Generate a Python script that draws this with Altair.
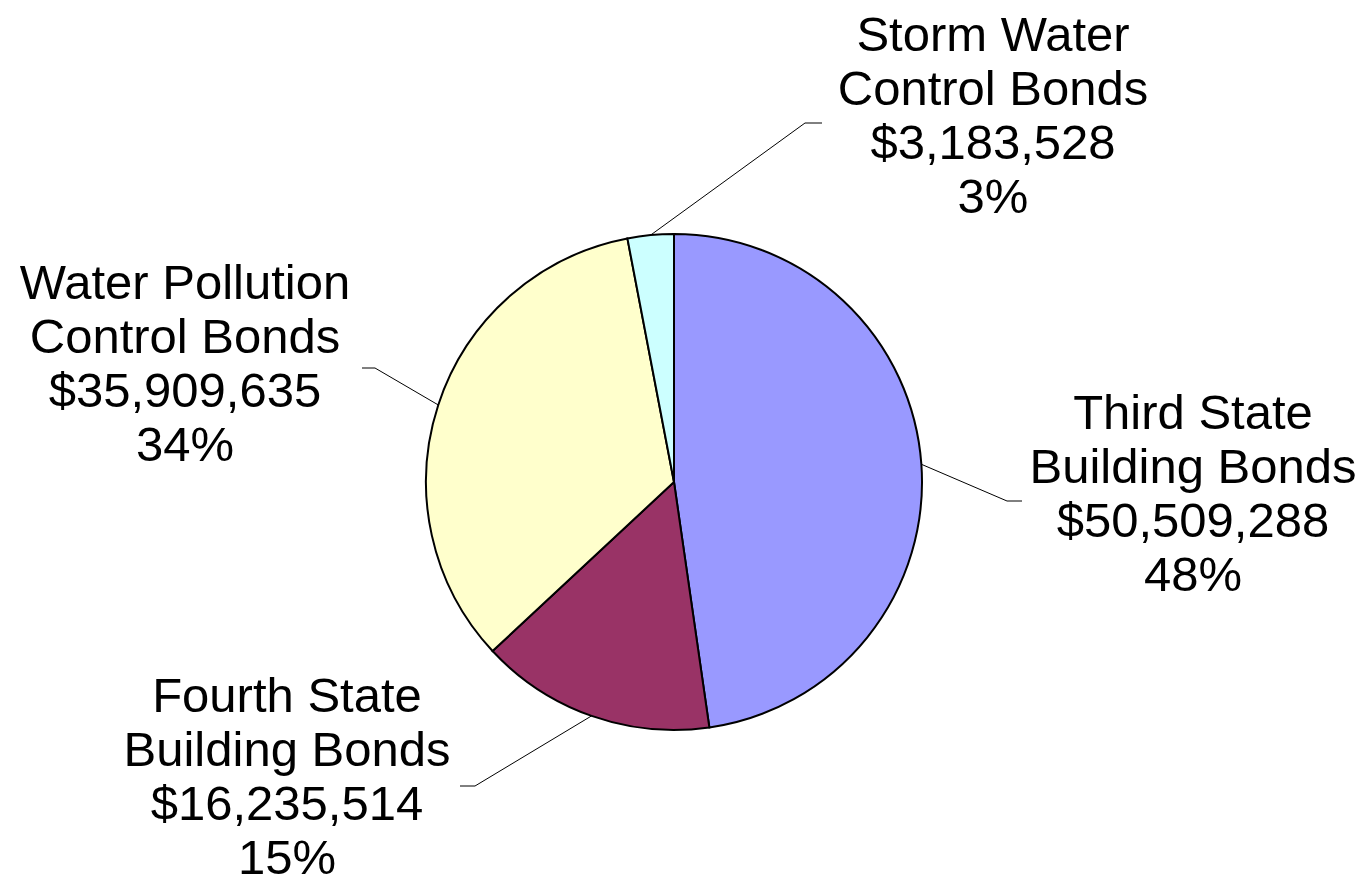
import altair as alt
import numpy as np
import pandas as pd

# ---- data ----
categories = [
    "Third State Building Bonds",
    "Fourth State Building Bonds",
    "Water Pollution Control Bonds",
    "Storm Water Control Bonds",
]
name_line1 = ["Third State", "Fourth State", "Water Pollution", "Storm Water"]
name_line2 = ["Building Bonds", "Building Bonds", "Control Bonds", "Control Bonds"]
amounts = [50509288, 16235514, 35909635, 3183528]
colors = ["#9999FF", "#993366", "#FFFFCC", "#CCFFFF"]

# ---- layout (screen pixels, page margin 8) ----
M = 8
CX, CY, R = 674 - M, 482 - M, 248
label_anchor = {  # centre x, first-line baseline y
    categories[0]: (1193, 429),
    categories[1]: (287, 712),
    categories[2]: (185, 299),
    categories[3]: (993, 51),
}
elbow = {
    categories[0]: ((1007, 501), (1022, 501)),
    categories[1]: ((475, 786), (460, 786)),
    categories[2]: ((375, 368), (362, 368)),
    categories[3]: ((805, 123), (822, 123)),
}

total = sum(amounts)
pct = [round(a / total * 100) for a in amounts]
cum = np.cumsum([0] + amounts)
mid_angle = [(cum[i] + amounts[i] / 2) / total * 2 * np.pi for i in range(len(amounts))]

pie_df = pd.DataFrame({
    "category": categories,
    "amount": amounts,
    "order": list(range(len(categories))),
})

label_df = pd.DataFrame({
    "category": categories,
    "text": [f"{a}\n{b}\n${v:,}\n{p}%" for a, b, v, p in zip(name_line1, name_line2, amounts, pct)],
    "lx": [label_anchor[c][0] - M for c in categories],
    "ly": [label_anchor[c][1] - M for c in categories],
})

rows = []
for c, ang in zip(categories, mid_angle):
    sx = CX + R * np.sin(ang)
    sy = CY - R * np.cos(ang)
    (ex, ey), (tx, ty) = elbow[c]
    rows.append({"category": c, "k": 0, "px": sx, "py": sy})
    rows.append({"category": c, "k": 1, "px": ex - M, "py": ey - M})
    rows.append({"category": c, "k": 2, "px": tx - M, "py": ty - M})
line_df = pd.DataFrame(rows)

pie = alt.Chart(pie_df).mark_arc(radius=R, stroke="black", strokeWidth=2).encode(
    theta=alt.Theta("amount:Q", stack=True),
    order=alt.Order("order:Q"),
    color=alt.Color("category:N", scale=alt.Scale(domain=categories, range=colors), legend=None),
    x=alt.value(CX),
    y=alt.value(CY),
)

leaders = alt.Chart(line_df).mark_line(color="black", strokeWidth=1).encode(
    x=alt.X("px:Q", scale=None),
    y=alt.Y("py:Q", scale=None),
    detail="category:N",
    order="k:Q",
)

labels = alt.Chart(label_df).mark_text(
    font="Liberation Sans", fontSize=49, lineHeight=54, lineBreak="\n",
    align="center", baseline="alphabetic", color="black",
).encode(
    x=alt.X("lx:Q", scale=None),
    y=alt.Y("ly:Q", scale=None),
    text="text:N",
)

chart = alt.layer(pie, leaders, labels).properties(
    width=1350, height=879, padding=0, autosize=alt.AutoSizeParams(type="none"),
    background="white",
).configure_view(strokeWidth=0)

chart.save("out.html", embed_options={"renderer": "svg", "actions": False})
